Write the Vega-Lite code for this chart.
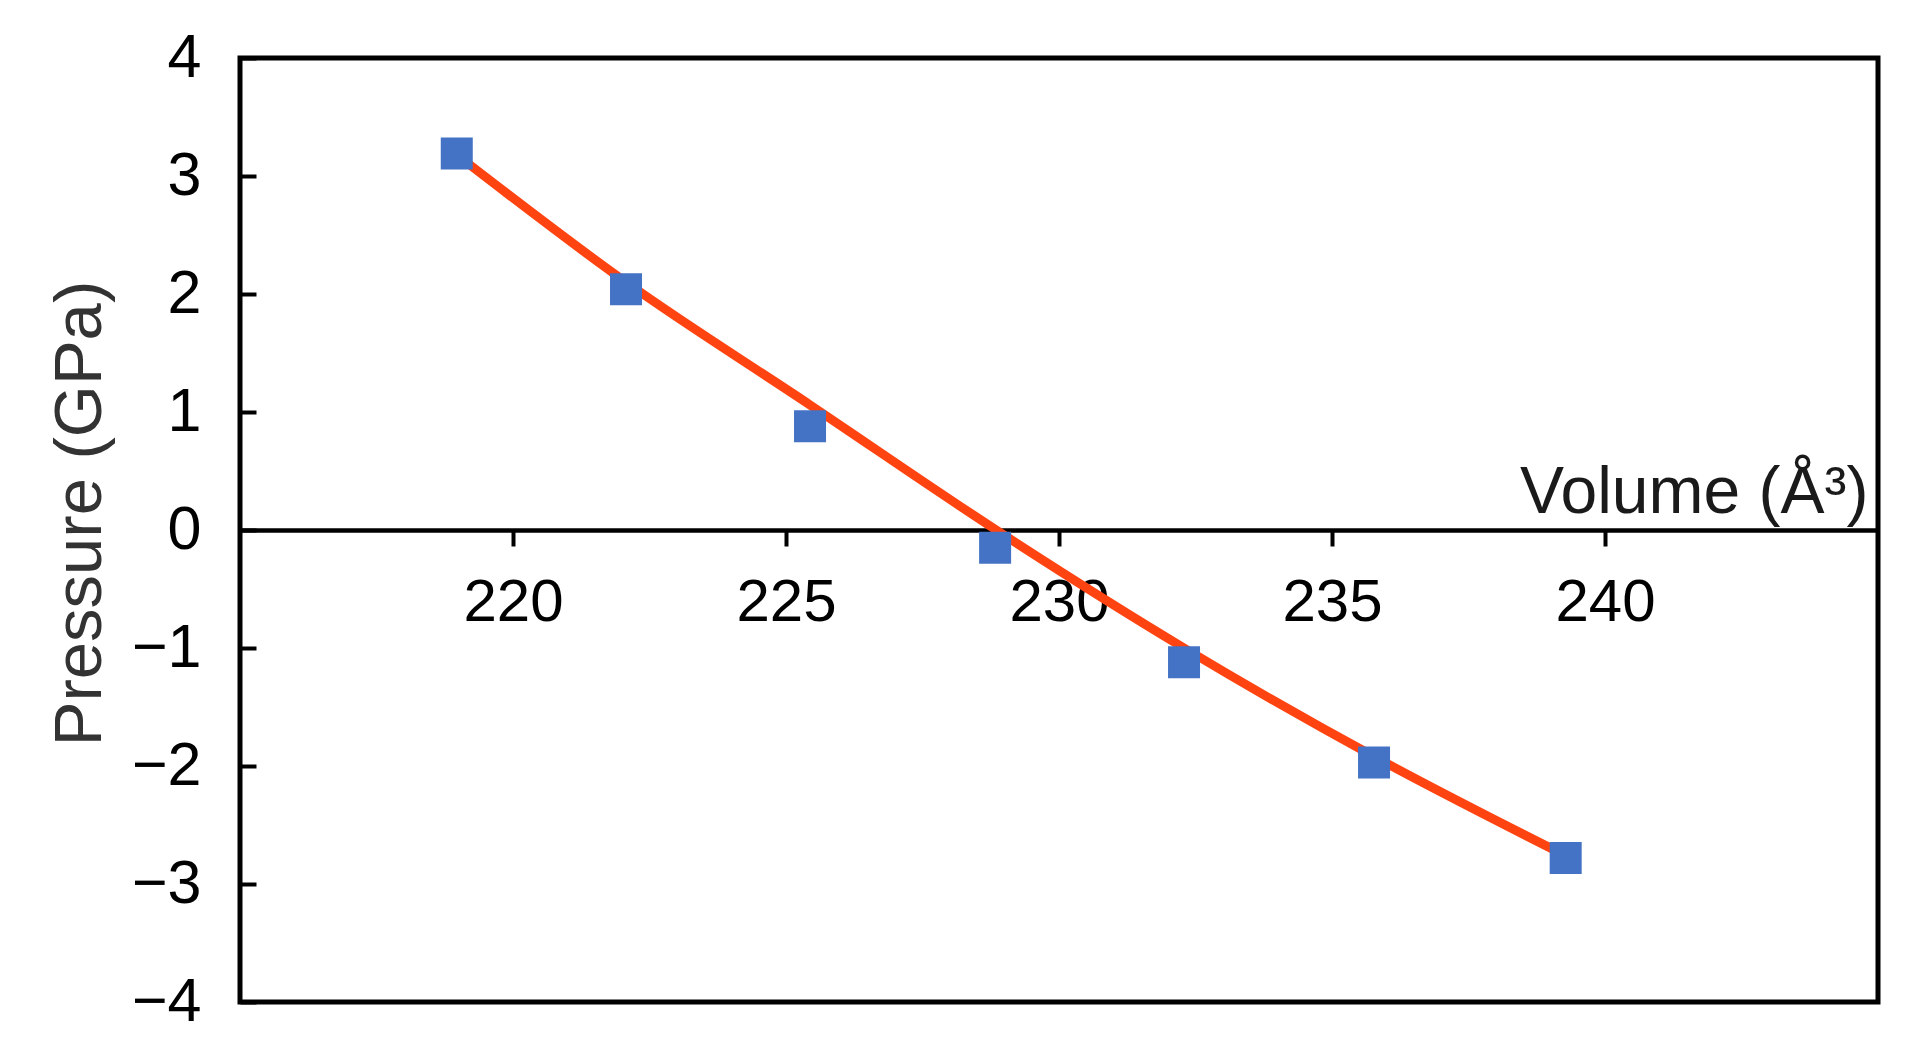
{
  "$schema": "https://vega.github.io/schema/vega-lite/v6.json",
  "width": 1638,
  "height": 944,
  "autosize": {"type": "none"},
  "padding": {"left": 240, "top": 58, "right": 46, "bottom": 60},
  "background": "white",
  "config": {
    "view": {"stroke": "black", "strokeWidth": 5},
    "font": "Liberation Sans"
  },
  "datasets": {
    "pts": [
      {"volume": 218.97, "pressure": 3.19},
      {"volume": 222.07, "pressure": 2.04},
      {"volume": 225.44, "pressure": 0.88},
      {"volume": 228.83, "pressure": -0.15},
      {"volume": 232.29, "pressure": -1.12},
      {"volume": 235.77, "pressure": -1.97},
      {"volume": 239.28, "pressure": -2.78}
    ],
    "fit": [
      {"volume": 218.97, "pressure": 3.18},
      {"volume": 222.07, "pressure": 2.10},
      {"volume": 225.44, "pressure": 1.06},
      {"volume": 228.85, "pressure": 0.0},
      {"volume": 232.29, "pressure": -1.0},
      {"volume": 235.77, "pressure": -1.92},
      {"volume": 239.28, "pressure": -2.76}
    ]
  },
  "encoding": {
    "x": {
      "field": "volume",
      "type": "quantitative",
      "scale": {"domain": [215, 245], "nice": false, "zero": false},
      "axis": {
        "title": "Volume (Å³)",
        "grid": false,
        "offset": -472,
        "values": [220, 225, 230, 235, 240],
        "domain": true,
        "domainColor": "black",
        "domainWidth": 4.5,
        "ticks": true,
        "tickColor": "black",
        "tickSize": 16,
        "tickWidth": 4,
        "labelFontSize": 60,
        "labelColor": "black",
        "labelPadding": 27,
        "labelBaseline": "top",
        "labelFlush": false,
        "titleFontSize": 66,
        "titleFontWeight": "normal",
        "titleColor": "#1a1a1a",
        "titleAlign": "right",
        "titleBaseline": "alphabetic",
        "titleAngle": 0,
        "titleX": 1628,
        "titleY": -18
      }
    },
    "y": {
      "field": "pressure",
      "type": "quantitative",
      "scale": {"domain": [-4, 4], "nice": false},
      "axis": {
        "title": "Pressure (GPa)",
        "grid": false,
        "domain": false,
        "values": [-4, -3, -2, -1, 0, 1, 2, 3, 4],
        "ticks": true,
        "tickColor": "black",
        "tickSize": -16,
        "tickWidth": 4,
        "labelFontSize": 61,
        "labelColor": "black",
        "labelPadding": 55,
        "labelFlush": false,
        "titleFontSize": 67,
        "titleFontWeight": "normal",
        "titleColor": "#333333",
        "titleAngle": -90,
        "titleAlign": "center",
        "titleBaseline": "alphabetic",
        "titleX": -140,
        "titleY": 455
      }
    }
  },
  "layer": [
    {
      "data": {"name": "fit"},
      "mark": {"type": "line", "color": "#FF4412", "strokeWidth": 9, "interpolate": "monotone"}
    },
    {
      "data": {"name": "pts"},
      "mark": {"type": "point", "shape": "square", "filled": true, "size": 1024, "color": "#4472C4", "opacity": 1}
    }
  ]
}
